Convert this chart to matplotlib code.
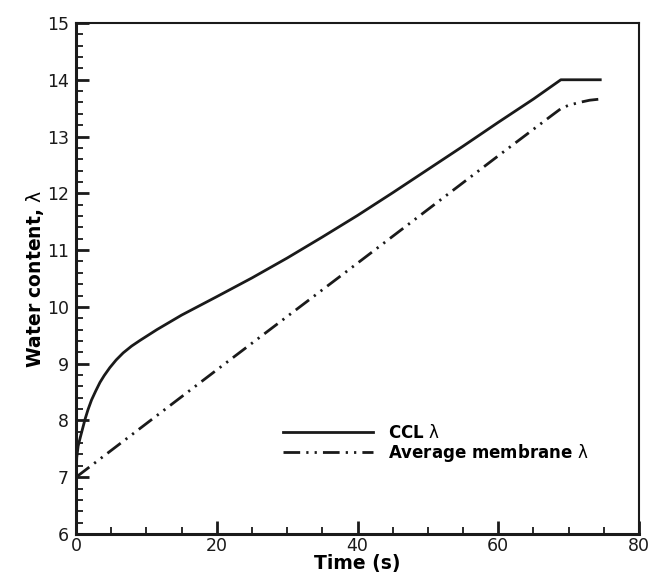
import matplotlib
matplotlib.use("Agg")
from matplotlib import pyplot as plt
from matplotlib.ticker import MultipleLocator

plt.rcParams['font.family'] = ['DejaVu Sans']
plt.rcParams['mathtext.fontset'] = 'dejavusans'

# CCL water content
ccl_t = [0, 0.1, 0.3, 0.6, 1.3, 1.7, 2.2, 2.8, 3.4, 4.0, 4.8, 5.7, 6.7, 7.9, 9.1,
         11.5, 15, 20, 25, 30, 35, 40, 45, 50, 55, 60, 65, 68.9, 74.5]
ccl_lam = [7.0, 7.35, 7.55, 7.7, 8.03, 8.19, 8.36, 8.52, 8.67, 8.79, 8.93, 9.065,
           9.19, 9.31, 9.41, 9.6, 9.855, 10.18, 10.51, 10.86, 11.23, 11.61, 12.01,
           12.42, 12.83, 13.25, 13.66, 14.0, 14.0]

# average membrane water content
mem_t = [0, 20, 40, 60, 67.7, 69.0, 70.0, 71.5, 73.0, 74.5]
mem_lam = [7.0, 8.89, 10.77, 12.66, 13.38, 13.5, 13.55, 13.6, 13.64, 13.66]

fig = plt.figure(figsize=(6.5, 5.82), dpi=100)
ax = fig.add_axes([0.117, 0.0825, 0.866, 0.878])

ax.plot(ccl_t, ccl_lam, color='#1a1a1a', lw=2.0, label=r'CCL $\mathrm{\lambda}$')
ax.plot(mem_t, mem_lam, color='#1a1a1a', lw=2.0,
        linestyle=(0, (6.0, 2.2, 0.8, 2.2, 0.8, 2.2)),
        label=r'Average membrane $\mathrm{\lambda}$')

ax.set_xlim(0, 80)
ax.set_ylim(6, 15)
ax.xaxis.set_major_locator(MultipleLocator(20))
ax.xaxis.set_minor_locator(MultipleLocator(5))
ax.yaxis.set_major_locator(MultipleLocator(1))
ax.yaxis.set_minor_locator(MultipleLocator(0.2))

ax.tick_params(which='both', direction='in', top=False, right=False,
               labelsize=12.5, colors='#1a1a1a')
ax.tick_params(which='major', length=9.5, width=2.0)
ax.tick_params(which='minor', length=5, width=1.3)
ax.tick_params(axis='x', which='major', pad=2.5)
ax.tick_params(axis='y', which='major', pad=5)

for s in ['left', 'bottom']:
    ax.spines[s].set_linewidth(2.2)
for s in ['top', 'right']:
    ax.spines[s].set_linewidth(1.5)
for s in ax.spines.values():
    s.set_color('#1a1a1a')

ax.set_xlabel('Time (s)', fontsize=13.5, fontweight='bold', labelpad=-1)
ax.set_ylabel(r'Water content, $\mathrm{\lambda}$', fontsize=13.5, fontweight='bold',
              labelpad=1)

leg = ax.legend(loc='upper left', bbox_to_anchor=(0.368, 0.215), frameon=False,
                handlelength=5.4, handletextpad=0.9, labelspacing=0.0,
                borderpad=0, borderaxespad=0,
                prop={'size': 12, 'weight': 'bold'})

fig.savefig('out.png', dpi=100)
